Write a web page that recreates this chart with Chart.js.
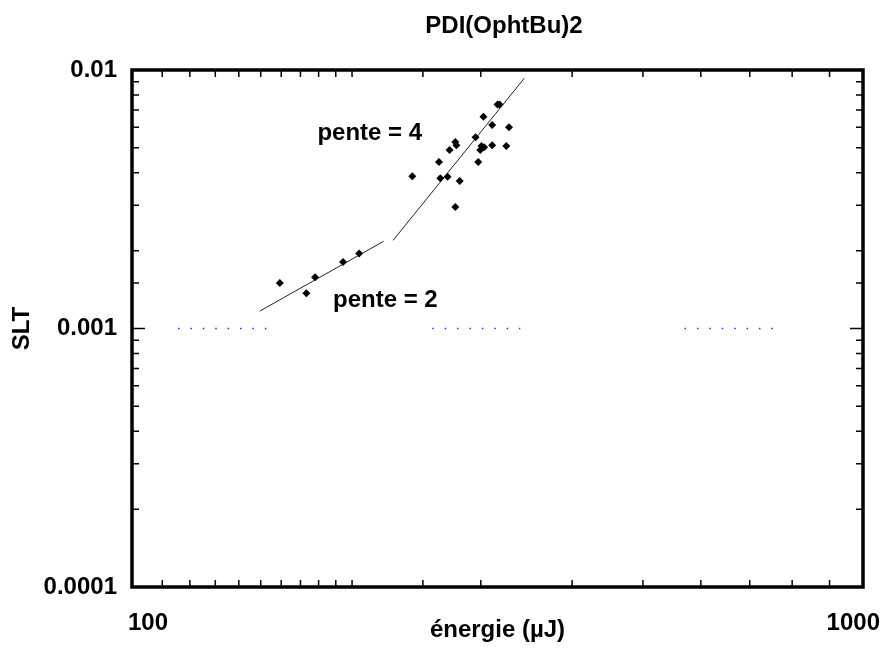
<!DOCTYPE html>
<html>
<head>
<meta charset="utf-8">
<script src="https://cdn.jsdelivr.net/npm/chart.js@4.4.0/dist/chart.umd.min.js"></script>
<style>
  html, body { margin: 0; padding: 0; background: #fff; }
  #wrap { width: 887px; height: 651px; }
</style>
</head>
<body>
<div id="wrap"><canvas id="sltChart" width="887" height="651"></canvas></div>
<script>
var chartTitle = "PDI(OphtBu)2";
var xTitle = "énergie (µJ)";
var yTitle = "SLT";

// mesures
var energie = [159.3, 173.2, 178.0, 194.4, 204.5, 241.8, 263.0, 264.1, 270.2, 271.9,
               276.9, 277.8, 280.7, 276.9, 295.1, 297.6, 299.5, 300.7, 303.2, 302.5,
               311.0, 311.0, 316.3, 318.3, 327.9, 325.1];
var slt = [0.00150, 0.00137, 0.00158, 0.00181, 0.00195, 0.00388, 0.00441, 0.00381, 0.00386, 0.00490,
           0.00527, 0.00512, 0.00372, 0.00295, 0.00549, 0.00441, 0.00490, 0.00508, 0.00502, 0.00659,
           0.00612, 0.00511, 0.00736, 0.00736, 0.00600, 0.00508];

// droites
var fit2X = [149.5, 220.9];
var fit2Y = [0.001167, 0.002174];
var fit4X = [227.6, 344.0];
var fit4Y = [0.002193, 0.009286];

// pointilles bleus
var dotsX = [[115.6, 153.5], [257.5, 339.8], [570.0, 765.0]];
var dotsY = 0.001;

var xTickLabels = [100, 1000];
var yTickLabels = [0.0001, 0.001, 0.01];

var notes = ["pente = 4", "pente = 2"];
var notesX = [211.5, 222.1];
var notesY = [0.005674, 0.001284];

var fontName = "'Liberation Sans', Arial, sans-serif";

function pts(xs, ys) {
  var out = [];
  for (var i = 0; i < xs.length; i++) {
    out.push({x: xs[i], y: Array.isArray(ys) ? ys[i] : ys});
  }
  return out;
}

function isLabel(list, v) {
  for (var i = 0; i < list.length; i++) {
    if (Math.abs(v / list[i] - 1) < 1e-6) return true;
  }
  return false;
}

var datasets = [{
  data: pts(energie, slt),
  pointStyle: 'rectRot',
  pointRadius: 4,
  backgroundColor: '#000',
  borderWidth: 0,
  showLine: false
}, {
  data: pts(fit2X, fit2Y),
  showLine: true,
  borderColor: '#222',
  borderWidth: 1,
  pointRadius: 0
}, {
  data: pts(fit4X, fit4Y),
  showLine: true,
  borderColor: '#222',
  borderWidth: 1,
  pointRadius: 0
}];
dotsX.forEach(function(seg) {
  datasets.push({
    data: pts(seg, dotsY),
    showLine: true,
    borderColor: '#2b2bff',
    borderWidth: 1.5,
    borderDash: [1.5, 10.9],
    pointRadius: 0
  });
});

var framePlugin = {
  id: 'frame',
  afterDraw: function(chart) {
    var ctx = chart.ctx;
    var a = chart.chartArea;
    var xs = chart.scales.x, ys = chart.scales.y;
    ctx.save();
    ctx.strokeStyle = '#000';
    ctx.lineWidth = 1.5;
    xs.ticks.forEach(function(t) {
      if (isLabel(xTickLabels, t.value)) return;
      var px = xs.getPixelForValue(t.value);
      ctx.beginPath();
      ctx.moveTo(px, a.bottom); ctx.lineTo(px, a.bottom - 7);
      ctx.moveTo(px, a.top); ctx.lineTo(px, a.top + 7);
      ctx.stroke();
    });
    ys.ticks.forEach(function(t) {
      if (t.value === ys.min || t.value === ys.max) return;
      var py = ys.getPixelForValue(t.value);
      var len = isLabel(yTickLabels, t.value) ? 13 : 7;
      ctx.beginPath();
      ctx.moveTo(a.left, py); ctx.lineTo(a.left + len, py);
      ctx.moveTo(a.right, py); ctx.lineTo(a.right - len, py);
      ctx.stroke();
    });
    ctx.lineWidth = 3.5;
    ctx.strokeRect(a.left, a.top, a.right - a.left, a.bottom - a.top);

    ctx.fillStyle = '#000';
    ctx.textBaseline = 'middle';
    ctx.font = 'bold 24px ' + fontName;

    // x tick labels, shifted right like the original, kept inside the canvas
    ctx.textAlign = 'center';
    xTickLabels.forEach(function(v) {
      var txt = String(v);
      var w = ctx.measureText(txt).width;
      var cx = Math.min(xs.getPixelForValue(v) + 16, chart.width - 7 - w / 2);
      ctx.fillText(txt, cx, a.bottom + 36);
    });

    ctx.fillText(chartTitle, 504, 26);
    for (var i = 0; i < notes.length; i++) {
      ctx.fillText(notes[i], xs.getPixelForValue(notesX[i]), ys.getPixelForValue(notesY[i]));
    }
    ctx.restore();
  }
};

var myChart = new Chart(document.getElementById('sltChart'), {
  type: 'scatter',
  data: { datasets: datasets },
  options: {
    responsive: false,
    animation: false,
    layout: { padding: { top: 70, right: 24, bottom: 0, left: 0 } },
    plugins: {
      legend: { display: false },
      tooltip: { enabled: false },
      title: { display: false }
    },
    scales: {
      x: {
        type: 'logarithmic',
        min: 100,
        max: 1000,
        grid: { display: false, drawTicks: false },
        border: { display: false },
        ticks: { display: false, autoSkip: false },
        title: {
          display: true,
          text: xTitle,
          color: '#000',
          font: { family: fontName, size: 24, weight: 'bold' },
          padding: { top: 0, bottom: 6 }
        },
        afterFit: function(s) { s.height = 64; s.paddingLeft = 0; s.paddingRight = 0; }
      },
      y: {
        type: 'logarithmic',
        min: 0.0001,
        max: 0.01,
        grid: { display: false, drawTicks: false },
        border: { display: false },
        ticks: {
          autoSkip: false,
          padding: 15,
          color: '#000',
          font: { family: fontName, size: 24, weight: 'bold' },
          callback: function(v) { return isLabel(yTickLabels, v) ? String(v) : ''; }
        },
        title: {
          display: true,
          text: yTitle,
          color: '#000',
          font: { family: fontName, size: 24, weight: 'bold' },
          padding: { top: 8, bottom: 0 }
        },
        afterFit: function(s) { s.width = 132; s.paddingTop = 0; s.paddingBottom = 0; }
      }
    }
  },
  plugins: [framePlugin]
});
</script>
</body>
</html>
